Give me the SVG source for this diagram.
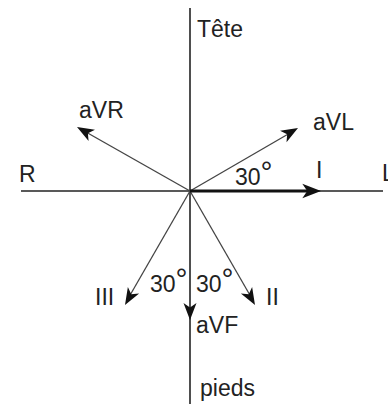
<svg xmlns="http://www.w3.org/2000/svg" width="388" height="404" viewBox="0 0 388 404">
<style>
text{font-family:"Liberation Sans",Arial,sans-serif;font-size:23px;fill:#222}
.deg{font-size:30px}
.axis{stroke:#222;stroke-width:1.6;fill:none}
.lead{stroke:#444;stroke-width:1.3;fill:none}
.head{fill:#111}
</style>
<defs>
<polygon id="ah" points="0,0 -17,-6.5 -12.5,0 -17,6.5"/>
</defs>
<rect width="388" height="404" fill="#fff"/>
<g id="connectors">
<line class="axis" x1="190" y1="8" x2="190" y2="404"/>
<line class="axis" x1="21" y1="191" x2="383" y2="191"/>
<line class="lead" x1="190" y1="191" x2="85" y2="131.5"/>
<line class="lead" x1="190" y1="191" x2="290" y2="133"/>
<line class="lead" x1="190" y1="191" x2="129" y2="297"/>
<line class="lead" x1="190" y1="191" x2="251" y2="297"/>
<line x1="190" y1="191" x2="308" y2="191" stroke="#111" stroke-width="3.2"/>
<use href="#ah" class="head" transform="translate(77,127) rotate(209.5)"/>
<use href="#ah" class="head" transform="translate(298,128) rotate(-30)"/>
<use href="#ah" class="head" transform="translate(125,305) rotate(120)"/>
<use href="#ah" class="head" transform="translate(255,305) rotate(60)"/>
<use href="#ah" class="head" transform="translate(190,320) rotate(90)"/>
<use href="#ah" class="head" transform="translate(321,191) scale(1.1)"/>
</g>
<g id="tete"><text x="197" y="37">Tête</text></g>
<g id="pieds"><text x="200" y="396">pieds</text></g>
<g id="R"><text x="19" y="182">R</text></g>
<g id="L"><text x="382" y="181">L</text></g>
<g id="aVR"><text x="79" y="118">aVR</text></g>
<g id="aVL"><text x="313" y="130">aVL</text></g>
<g id="I"><text x="316" y="178">I</text></g>
<g id="angleI"><text x="235" y="185">30<tspan class="deg" dy="-3">°</tspan></text></g>
<g id="III"><text x="95" y="305">III</text></g>
<g id="II"><text x="266" y="305">II</text></g>
<g id="aVF"><text x="196" y="333">aVF</text></g>
<g id="angleL"><text x="150" y="292">30<tspan class="deg" dy="-3">°</tspan></text></g>
<g id="angleR"><text x="196" y="292">30<tspan class="deg" dy="-3">°</tspan></text></g>
</svg>
